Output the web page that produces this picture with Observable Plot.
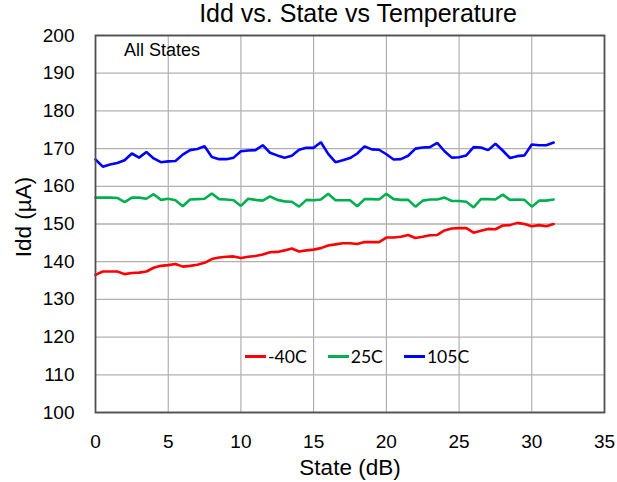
<!DOCTYPE html>
<html><head><meta charset="utf-8">
<script src="https://cdn.jsdelivr.net/npm/d3@7"></script>
<script src="https://cdn.jsdelivr.net/npm/@observablehq/plot@0.6"></script>
<style>
body{margin:0;background:#fff;}
#wrap{position:relative;width:617px;height:482px;font-family:"Liberation Sans",Arial,sans-serif;}
.lg{position:absolute;font-family:Lato,"Open Sans",sans-serif;font-size:17.6px;color:#000;display:flex;align-items:center;}
.lg span.sw{display:inline-block;width:21px;height:3px;margin-right:2px;}
</style></head>
<body><div id="wrap"></div>
<script>
const states = d3.range(0, 32, 0.5);
const seriesNames = ["-40C", "25C", "105C"];
const seriesColors = ["#ff0000", "#00b050", "#0000ff"];
const idd_m40 = [136.5,137.4,137.4,137.4,136.7,137.0,137.1,137.4,138.4,138.9,139.1,139.4,138.7,138.9,139.2,139.7,140.7,141.1,141.3,141.4,141.0,141.3,141.5,141.9,142.5,142.6,143.0,143.5,142.7,143.0,143.2,143.6,144.3,144.6,144.9,144.9,144.7,145.2,145.2,145.2,146.4,146.4,146.6,147.1,146.3,146.6,147.0,147.1,148.3,148.8,148.9,148.9,147.7,148.2,148.7,148.6,149.6,149.7,150.3,150.0,149.4,149.7,149.4,150.0];
const idd_25 = [157.0,157.0,157.0,156.9,155.8,157.0,157.0,156.7,157.9,156.4,156.7,156.3,154.7,156.5,156.6,156.7,158.1,156.6,156.5,156.3,154.8,156.7,156.4,156.2,157.3,156.4,156.0,155.9,154.6,156.4,156.3,156.5,158.0,156.3,156.3,156.3,154.7,156.6,156.6,156.5,158.0,156.6,156.4,156.4,154.6,156.2,156.5,156.5,157.0,156.1,156.1,155.9,154.4,156.6,156.6,156.5,157.8,156.4,156.5,156.4,154.6,156.2,156.2,156.5];
const idd_105 = [167.1,165.2,165.8,166.2,166.9,168.7,167.6,169.1,167.4,166.4,166.6,166.7,168.4,169.6,169.9,170.6,167.8,167.2,167.2,167.6,169.3,169.5,169.6,170.9,168.9,168.2,167.6,168.1,169.7,170.2,170.2,171.7,168.6,166.4,166.9,167.5,168.7,170.6,169.8,169.7,168.5,167.1,167.2,168.1,170.0,170.3,170.4,171.5,169.3,167.6,167.7,168.2,170.4,170.3,169.6,171.3,169.5,167.5,168.0,168.2,171.1,170.9,170.9,171.6];
const xTicks = [0,5,10,15,20,25,30,35];
const yTicks = [100,110,120,130,140,150,160,170,180,190,200];

const allSeries = [idd_m40, idd_25, idd_105];
const rows = [];
allSeries.forEach((arr, k) => arr.forEach((v, i) => rows.push({state: states[i], idd: v, series: seriesNames[k]})));

const chart = Plot.plot({
  width: 617, height: 482,
  marginTop: 35, marginBottom: 70, marginLeft: 95, marginRight: 13,
  style: {fontFamily: '"Liberation Sans", Arial, sans-serif', fontSize: "19px", color: "#000", background: "#fff"},
  x: {domain: [0, 35], label: null},
  y: {domain: [100, 200], label: null},
  color: {domain: seriesNames, range: seriesColors},
  marks: [
    Plot.gridX(xTicks, {stroke: "#a0a0a0", strokeOpacity: 1, strokeWidth: 1}),
    Plot.gridY(yTicks, {stroke: "#b0b0b0", strokeOpacity: 1, strokeWidth: 1.3}),
    Plot.axisX({ticks: xTicks, tickSize: 0, tickPadding: 22, fontSize: 19, label: null}),
    Plot.axisY({ticks: yTicks, tickSize: 0, tickPadding: 21, fontSize: 19, label: null}),
    Plot.line(rows, {x: "state", y: "idd", z: "series", stroke: "series", strokeWidth: 2.6, strokeLinejoin: "miter"}),
    Plot.frame({stroke: "#505050", strokeWidth: 1.8}),
    Plot.text(["Idd vs. State vs Temperature"], {frameAnchor: "top", lineAnchor: "middle", textAnchor: "middle", dx: 8, dy: -21.5, fontSize: 25, fill: "#000"}),
    Plot.text(["State (dB)"], {frameAnchor: "bottom", lineAnchor: "middle", textAnchor: "middle", dy: 55, fontSize: 22.5, fill: "#000"}),
    Plot.text(["Idd (µA)"], {frameAnchor: "left", lineAnchor: "middle", textAnchor: "middle", dx: -72, dy: -7, rotate: -90, fontSize: 22.5, fill: "#000"})
  ]
});
const wrap = document.getElementById("wrap");
wrap.appendChild(chart);

const allStates = document.createElement("div");
allStates.textContent = "All States";
allStates.style.cssText = "position:absolute;left:124px;top:40px;font-size:18px;font-family:'Liberation Sans',Arial,sans-serif;";
wrap.appendChild(allStates);

const lg = document.createElement("div");
lg.className = "lg";
lg.style.cssText = "left:245px;top:346px;";
seriesNames.forEach((n, k) => {
  const item = document.createElement("div");
  item.style.cssText = "display:flex;align-items:center;margin-right:" + (k < 2 ? 21 : 0) + "px;";
  item.innerHTML = '<span class="sw" style="background:' + seriesColors[k] + '"></span><span>' + n + '</span>';
  lg.appendChild(item);
});
wrap.appendChild(lg);
</script></body></html>
